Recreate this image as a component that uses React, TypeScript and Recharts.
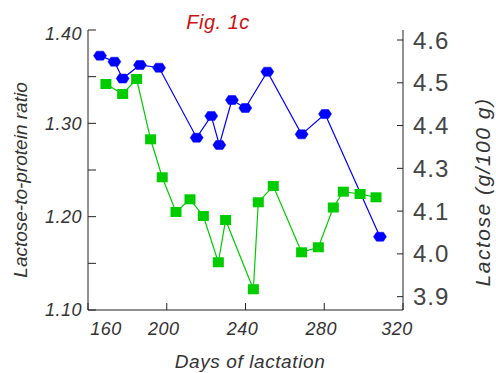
import React from 'react';
import { ComposedChart, Line, XAxis, YAxis } from 'recharts';

// Blue series: lactose-to-protein ratio (left axis)
const blueDays = [166.1, 173.4, 177.6, 186.4, 196.1, 215.2, 222.6, 226.7, 233.1, 239.9, 251.1, 268.5, 280.4, 308.3];
const blueValues = [1.3725, 1.366, 1.348, 1.3625, 1.3596, 1.2846, 1.3079, 1.2768, 1.325, 1.3164, 1.3553, 1.2882, 1.31, 1.1785];

// Green series: lactose, g/100 g (right axis)
const greenDays = [169.1, 177.6, 184.7, 191.8, 197.7, 204.7, 211.8, 218.6, 226.2, 229.9, 244.0, 246.5, 254.1, 268.5, 277.0, 284.6, 289.7, 298.2, 306.3];
const greenValues = [4.48, 4.4527, 4.4936, 4.3292, 4.2256, 4.1309, 4.1656, 4.12, 3.9938, 4.1091, 3.9202, 4.1574, 4.2019, 4.021, 4.0347, 4.1432, 4.1863, 4.18, 4.171];

const xTicks = [160, 200, 240, 280, 320];
const leftTicks = [1.1, 1.15, 1.2, 1.25, 1.3, 1.35, 1.4];
// right-axis labels as printed in the figure, evenly spaced from 3.9 to 4.6
const rightTickLabels = ['3.9', '4.0', '4.1', '4.3', '4.4', '4.5', '4.6'];
const rightTicks = [3.9, 4.0167, 4.1333, 4.25, 4.3667, 4.4833, 4.6];

const title = 'Fig. 1c';
const xLabel = 'Days of lactation';
const leftLabel = 'Lactose-to-protein ratio';
const rightLabel = 'Lactose (g/100 g)';

const blueData = blueDays.map((d, i) => ({ day: d, v: blueValues[i] }));
const greenData = greenDays.map((d, i) => ({ day: d, v: greenValues[i] }));

const FONT = '"Liberation Sans", Arial, sans-serif';
const BLUE = '#0000ff';
const GREEN = '#00cc00';
const AXIS = '#222';

const HexDot = (props: any) => {
  const { cx, cy, index } = props;
  if (cx == null || cy == null) return <g key={`b${index}`} />;
  const pts = [
    [cx - 6.5, cy], [cx - 3.5, cy - 4.5], [cx + 3.5, cy - 4.5],
    [cx + 6.5, cy], [cx + 3.5, cy + 4.5], [cx - 3.5, cy + 4.5],
  ].map((p) => p.join(',')).join(' ');
  return <polygon key={`b${index}`} points={pts} fill={BLUE} stroke={BLUE} strokeWidth={0.5} />;
};

const SquareDot = (props: any) => {
  const { cx, cy, index } = props;
  if (cx == null || cy == null) return <g key={`g${index}`} />;
  return <rect key={`g${index}`} x={cx - 5.5} y={cy - 5} width={11} height={10} fill={GREEN} />;
};

const XTick = (props: any) => {
  const { x, y, payload, index } = props;
  const nudge = index === 0 ? 18 : index === xTicks.length - 1 ? -6 : -3;
  return (
    <text x={x + nudge} y={y} dy="0.71em" textAnchor="middle" fontFamily={FONT} fontSize={18} fill="#333" fontStyle="italic" letterSpacing={0.5}>
      {payload.value}
    </text>
  );
};

const LeftTick = (props: any) => {
  const { x, y, payload } = props;
  const v = payload.value as number;
  const show = Math.round(v * 100) % 10 === 0;
  if (!show) return <g />;
  const dy = v > 1.35 ? 4 : 0;
  return (
    <text x={x} y={y + dy} dy="0.355em" textAnchor="end" fontFamily={FONT} fontSize={18} fill="#333" fontStyle="italic" letterSpacing={0.5}>
      {v.toFixed(2)}
    </text>
  );
};

const RightTick = (props: any) => {
  const { x, y, index } = props;
  return (
    <text x={x} y={y} dy="0.355em" textAnchor="start" fontFamily={FONT} fontSize={24} fill="#444" letterSpacing={1}>
      {rightTickLabels[index]}
    </text>
  );
};

export default function App() {
  return (
    <div style={{ position: 'absolute', left: 0, top: 0, width: 496, height: 373, background: '#fff' }}>
      <ComposedChart width={496} height={373} margin={{ top: 30, right: 33, bottom: 23, left: 28 }}>
        <XAxis
          dataKey="day"
          type="number"
          domain={[160, 320]}
          ticks={xTicks}
          allowDataOverflow
          height={40}
          stroke={AXIS}
          tickSize={-7}
          tickMargin={19}
          tick={<XTick />}
        />
        <YAxis
          yAxisId="left"
          type="number"
          domain={[1.1, 1.4]}
          ticks={leftTicks}
          width={60}
          stroke={AXIS}
          tickSize={-8}
          tickMargin={14}
          interval={0}
          allowDataOverflow
          tick={<LeftTick />}
        />
        <YAxis
          yAxisId="right"
          orientation="right"
          type="number"
          domain={[3.8636, 4.6273]}
          ticks={rightTicks}
          width={60}
          stroke={AXIS}
          tickSize={-6}
          tickMargin={16}
          interval={0}
          allowDataOverflow
          tick={<RightTick />}
        />
        <Line
          yAxisId="right"
          data={greenData}
          dataKey="v"
          type="linear"
          stroke={GREEN}
          strokeWidth={1.2}
          dot={SquareDot}
          activeDot={false}
          isAnimationActive={false}
        />
        <Line
          yAxisId="left"
          data={blueData}
          dataKey="v"
          type="linear"
          stroke={BLUE}
          strokeWidth={1.2}
          dot={HexDot}
          activeDot={false}
          isAnimationActive={false}
        />
      </ComposedChart>
      <svg width={496} height={373} style={{ position: 'absolute', left: 0, top: 0, pointerEvents: 'none' }}>
        <text x={218} y={29} textAnchor="middle" fontFamily={FONT} fontSize={20} fontStyle="italic" fill="#cc1111" letterSpacing={0.5}>{title}</text>
        <text x={250} y={368} textAnchor="middle" fontFamily={FONT} fontSize={19} fontStyle="italic" fill="#333" letterSpacing={0.6}>{xLabel}</text>
        <text x={0} y={0} transform="translate(27,180) rotate(-90)" textAnchor="middle" fontFamily={FONT} fontSize={19} fontStyle="italic" fill="#333">{leftLabel}</text>
        <text x={0} y={0} transform="translate(490,192) rotate(-90)" textAnchor="middle" fontFamily={FONT} fontSize={21} fontStyle="italic" fill="#333" letterSpacing={1.5}>{rightLabel}</text>
      </svg>
    </div>
  );
}
